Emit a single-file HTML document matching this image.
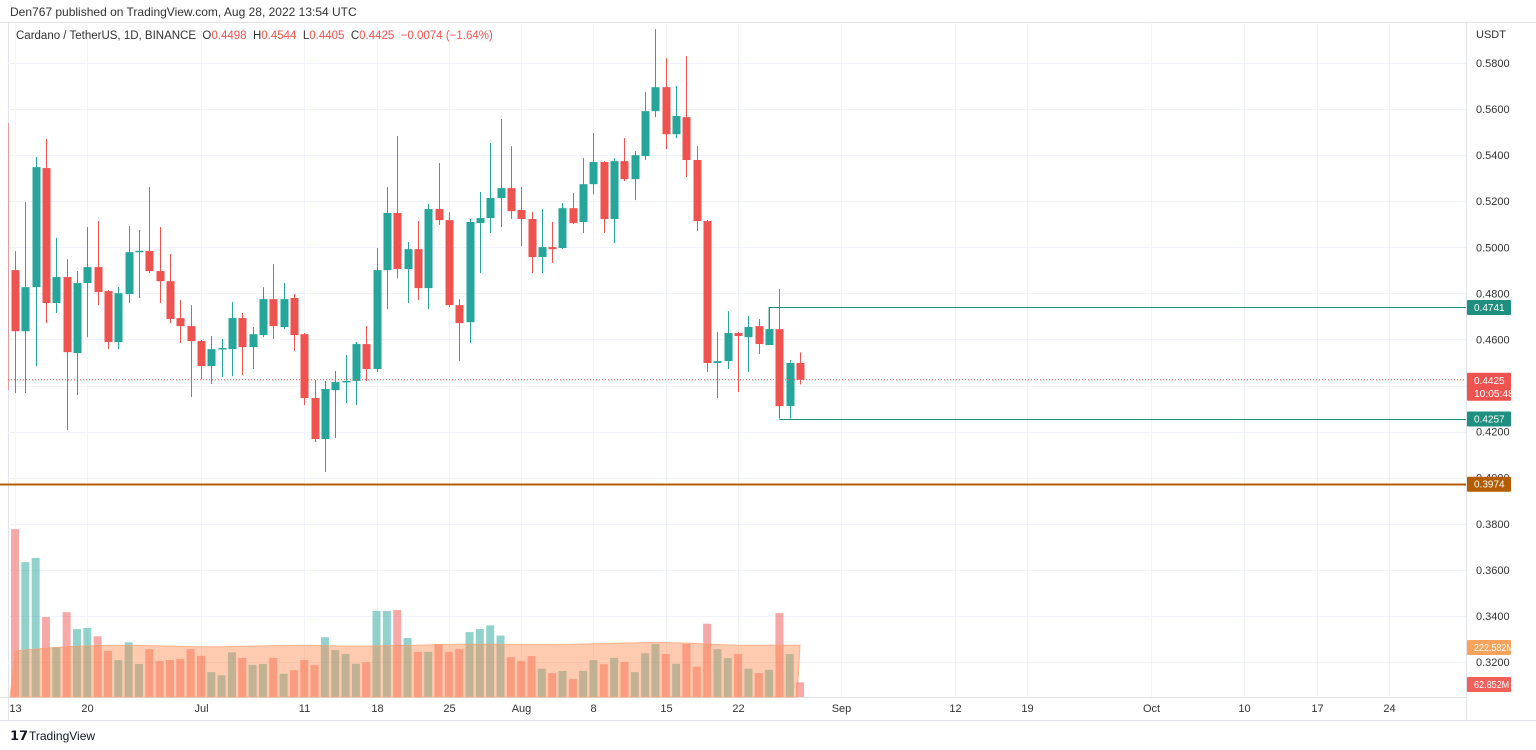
<!DOCTYPE html>
<html><head><meta charset="utf-8"><style>
body{margin:0;width:1536px;height:750px;background:#fff;overflow:hidden;font-family:"Liberation Sans",sans-serif}
svg{position:absolute;left:0;top:0}
</style></head><body>
<svg id="c" width="1536" height="750">
<text x="10" y="16" font-size="12" fill="#333">Den767 published on TradingView.com, Aug 28, 2022 13:54 UTC</text>
<line x1="0" y1="22.5" x2="1536" y2="22.5" stroke="#e0e3eb"/>
<line x1="8.5" y1="22" x2="8.5" y2="720" stroke="#e0e3eb"/>
<line x1="1466.5" y1="22" x2="1466.5" y2="720" stroke="#e0e3eb"/>
<line x1="0" y1="697.5" x2="1466" y2="697.5" stroke="#e0e3eb"/>
<line x1="0" y1="720.5" x2="1536" y2="720.5" stroke="#e0e3eb"/>
<g id="grid"></g><g id="vol"></g><g id="cand"></g><g id="axis"></g><g id="ov"></g>
<line x1="8.5" y1="123" x2="8.5" y2="390" stroke="rgba(239,83,80,0.5)"/>
<text x="16" y="39" font-size="11.5" fill="#333" xml:space="preserve" style="white-space:pre">Cardano / TetherUS, 1D, BINANCE  O<tspan fill="#ef5350">0.4498</tspan>  H<tspan fill="#ef5350">0.4544</tspan>  L<tspan fill="#ef5350">0.4405</tspan>  C<tspan fill="#ef5350">0.4425</tspan>  <tspan fill="#ef5350">−0.0074 (−1.64%)</tspan></text>
<text x="1476" y="38" font-size="11" fill="#333">USDT</text>
<g><text x="10" y="740" font-size="13" font-weight="bold" fill="#131722">𝟭𝟳</text><text x="29" y="740" font-size="12" fill="#131722">TradingView</text></g>
</svg>
<script>
const opens=[.4901,.4636,.4827,.5344,.4758,.4871,.4541,.4845,.4914,.4810,.4589,.4797,.4979,.4984,.4897,.4853,.4693,.4658,.4593,.4485,.4558,.4558,.4693,.4567,.4619,.4775,.4654,.4780,.4623,.4346,.4168,.4380,.4415,.4420,.4580,.4472,.4901,.5149,.4906,.4992,.4823,.5166,.5118,.4749,.4675,.5105,.5127,.5214,.5257,.5162,.5123,.4958,.5001,.4997,.5170,.5110,.5274,.5370,.5123,.5374,.5296,.5396,.5591,.5695,.5491,.5565,.5379,.5114,.4498,.4506,.4628,.4610,.4658,.4576,.4645,.4311,.4498];
const highs=[.4984,.5196,.5392,.5470,.5040,.4949,.4897,.5088,.5114,.4814,.4827,.5092,.5075,.5262,.5088,.4971,.4771,.4749,.4597,.4615,.4602,.4762,.4715,.4654,.4827,.4927,.4845,.4797,.4628,.4424,.4420,.4463,.4532,.4589,.4658,.4997,.5262,.5483,.5023,.5114,.5188,.5366,.5153,.4775,.5123,.5240,.5452,.5557,.5439,.5262,.5153,.5166,.5110,.5192,.5235,.5387,.5496,.5374,.5387,.5474,.5418,.5674,.5947,.5821,.5700,.5830,.5439,.5118,.4632,.4723,.4632,.4702,.4689,.4741,.4819,.4511,.4544];
const lows=[.4367,.4367,.4484,.4671,.4715,.4207,.4359,.4610,.4749,.4558,.4558,.4758,.4780,.4888,.4758,.4671,.4584,.4350,.4428,.4407,.4437,.4441,.4446,.4472,.4610,.4602,.4645,.4550,.4315,.4155,.4025,.4172,.4324,.4315,.4420,.4459,.4732,.4866,.4758,.4771,.4732,.5097,.4741,.4506,.4584,.4888,.5062,.5088,.5123,.5005,.4888,.4888,.4932,.4992,.5101,.5062,.5231,.5062,.5018,.5288,.5205,.5379,.5565,.5426,.5474,.5305,.5071,.4459,.4346,.4472,.4372,.4459,.4537,.4576,.4307,.4257,.4405];
const closes=[.4636,.4827,.5348,.4758,.4871,.4545,.4845,.4914,.4806,.4589,.4801,.4979,.4985,.4897,.4853,.4689,.4658,.4593,.4485,.4558,.4563,.4693,.4567,.4623,.4775,.4658,.4775,.4619,.4346,.4168,.4385,.4415,.4420,.4580,.4472,.4901,.5149,.4906,.4992,.4823,.5166,.5118,.4749,.4671,.5110,.5127,.5214,.5257,.5157,.5123,.4958,.5001,.4992,.5170,.5105,.5274,.5370,.5123,.5374,.5296,.5400,.5591,.5695,.5491,.5570,.5379,.5114,.4498,.4506,.4628,.4615,.4654,.4580,.4645,.4311,.4498,.4425];
const volumes=[722,580,598,344,214,365,292,297,261,198,159,235,142,206,155,159,163,206,177,107,93,192,168,138,142,168,100,115,159,138,257,202,185,143,150,370,370,374,254,194,194,228,194,206,279,292,308,264,171,155,176,122,103,112,77,112,159,141,168,150,107,188,228,185,143,228,130,315,206,168,185,122,103,117,361,185,63];
const volMA=[198,202,206,210,213,216,218,220,221,222,222,222,222,221,220,219,218,217,216,216,216,217,218,219,220,221,221,222,222,222,221,220,219,219,219,220,221,222,222,223,224,225,226,227,227,227,227,226,226,225,225,225,225,226,227,228,229,230,231,232,233,234,235,234,233,232,230,228,226,224,223,223,223,223,223,223,223];
const priceTicks=[0.58,0.56,0.54,0.52,0.50,0.48,0.46,0.42,0.40,0.38,0.36,0.34,0.32];
const gridTicks=[0.58,0.56,0.54,0.52,0.50,0.48,0.46,0.44,0.42,0.40,0.38,0.36,0.34,0.32];
const dateLabels=["13","20","Jul","11","18","25","Aug","8","15","22","Sep","12","19","Oct","10","17","24"];
const dateIdx=[0,7,18,28,35,42,49,56,63,70,80,91,98,110,119,126,133];
const NS="http://www.w3.org/2000/svg";
const y=p=>63+(0.58-p)*2304;
const x=i=>15+i*10.33;
const vy=v=>697-v/4.3;
function mk(t,a,par){const e=document.createElementNS(NS,t);for(const k in a)e.setAttribute(k,a[k]);document.getElementById(par).appendChild(e);return e;}
gridTicks.forEach(p=>{const l=mk('line',{x1:8,x2:1466,y1:Math.round(y(p))+.5,y2:Math.round(y(p))+.5,stroke:'#f0f3fa'},'grid');

});
priceTicks.forEach(p=>{const t=mk('text',{x:1476,y:y(p)+4,'font-size':11,fill:'#333'},'axis');t.textContent=p.toFixed(4);

});
dateIdx.forEach((d,k)=>{const X=Math.round(x(d))+.5;const l=mk('line',{x1:X,x2:X,y1:22,y2:697,stroke:'#f0f3fa'},'grid');


const t=mk('text',{x:X,y:712,'font-size':11,fill:'#333','text-anchor':'middle'},'axis');t.textContent=dateLabels[k];

});
volumes.forEach((v,i)=>{const up=closes[i]>=opens[i];const r=mk('rect',{x:x(i)-4,y:vy(v),width:8,height:697-vy(v),fill:up?'rgba(38,166,154,0.5)':'rgba(239,83,80,0.5)'},'vol');

});
let d='M'+(x(0)-5)+',697 ';volMA.forEach((v,i)=>{d+='L'+x(i)+','+vy(v)+' ';});d+='L'+(x(volMA.length-1)-3)+',697 Z';
const ma=mk('path',{d:d,fill:'rgba(252,140,80,0.45)',stroke:'rgba(252,160,110,0.7)'},'vol');


opens.forEach((o,i)=>{const c=closes[i];const up=c>=o;const col=up?'#26a69a':'#ef5350';const X=Math.round(x(i))+.5;
const w=mk('line',{x1:X,x2:X,y1:y(highs[i]),y2:y(lows[i]),stroke:col,'stroke-width':1},'cand');


const t=Math.min(y(o),y(c));const h=Math.max(1.5,Math.abs(y(o)-y(c)));
const b=mk('rect',{x:X-4,y:t,width:8,height:h,fill:col},'cand');

});
function hl(p,x1,col,w,nm){const l=mk('line',{x1:x1,x2:1466,y1:Math.round(y(p))+.5,y2:Math.round(y(p))+.5,stroke:col,'stroke-width':w},'ov');

}
hl(0.3974,0,'#b35c00',2,'support-line');
hl(0.4741,x(73),'#1f8f80',1,'resistance-level-line');
hl(0.4257,x(74),'#1f8f80',1,'low-level-line');
mk('line',{x1:x(73),x2:x(73),y1:y(0.4741),y2:y(0.4645),stroke:'#1f8f80'},'ov');
mk('line',{x1:x(74),x2:x(74),y1:y(0.4311),y2:y(0.4257),stroke:'#1f8f80'},'ov');
const cl=mk('line',{x1:8,x2:1466,y1:y(0.4425),y2:y(0.4425),stroke:'#ef5350','stroke-dasharray':'1,2'},'ov');


function tag(yc,h,bg,lines,nm){const r=mk('rect',{x:1467,y:yc-7,width:44,height:h,fill:bg,rx:1},'ov');


lines.forEach((s,k)=>{const t=mk('text',{x:1474,y:yc+4+k*13,'font-size':10.5,fill:'#fff',textLength:s.length*4.6+3,lengthAdjust:'spacingAndGlyphs'},'ov');t.textContent=s;});}
tag(y(0.4741),15,'#1f8f80',['0.4741'],'resistance-price-tag');
tag(y(0.4425),28,'#ef5350',['0.4425','10:05:48'],'last-price-tag');
tag(y(0.4257),15,'#1f8f80',['0.4257'],'low-price-tag');
tag(y(0.3974),15,'#b35c00',['0.3974'],'support-price-tag');
tag(647,15,'#f7a35c',['222.582M'],'volume-ma-tag');
tag(684,15,'#f0605a',['62.852M'],'volume-tag');
</script>
</body></html>
